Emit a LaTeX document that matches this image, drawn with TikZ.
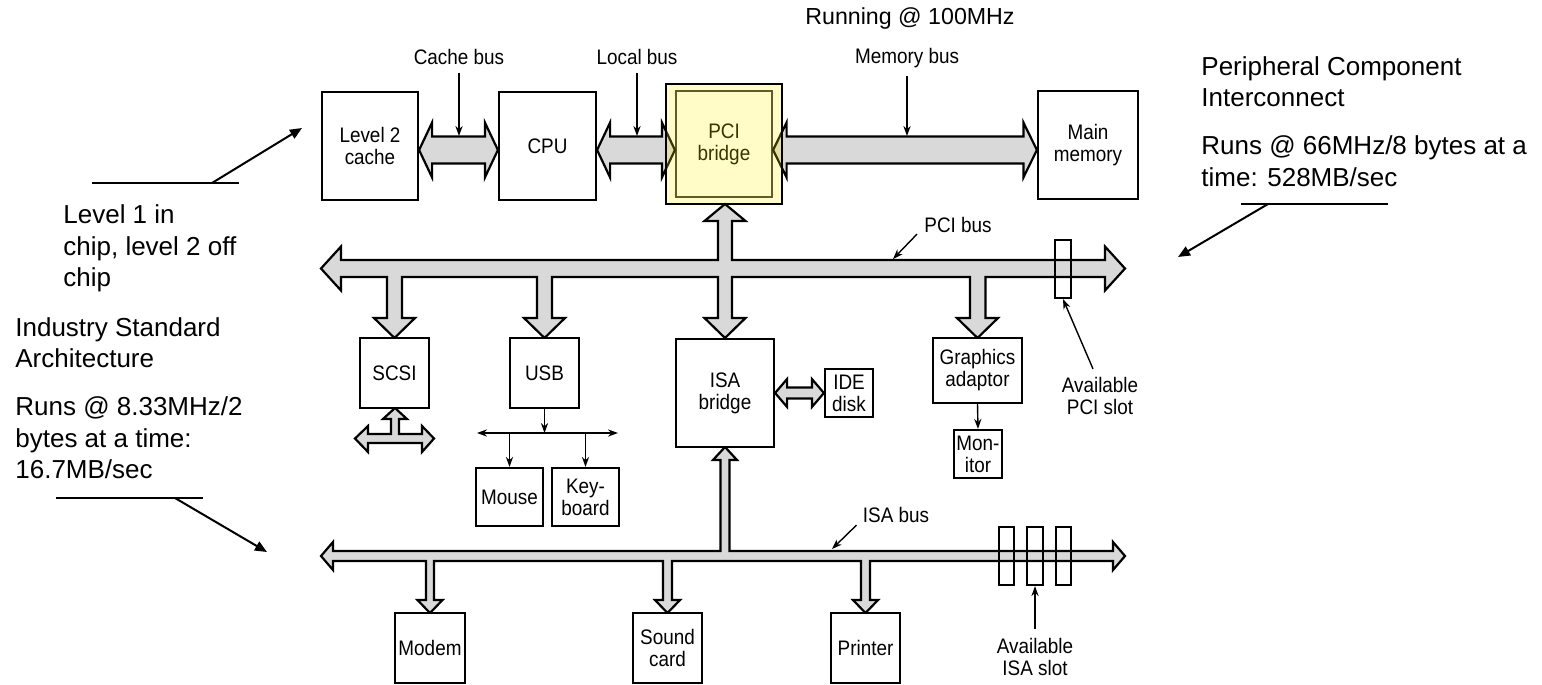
\documentclass[tikz,border=0pt]{standalone}
\usepackage{fontspec}
\setmainfont{Liberation Sans}
\newfontfamily\diagfont[FakeStretch=0.9]{Liberation Sans}
\usetikzlibrary{arrows.meta,calc}
\def\pxu{0.5pt}
\newcommand\bx[6]{\node[box, minimum width={(#4-#2)*0.5pt}, minimum height={(#5-#3)*0.5pt}] (#1) at ({(#2+#4)/2},{(#3+#5)/2}) {#6};}
\newcommand\hdarrow[6]{%
 \path[bus] let \p1=(#1), \p2=(#2) in
 (\x1,{\y1-(#6)*\pxu})
 -- ({\x1+(#3)*\pxu},{\y1+(-(#6)+(#4))*\pxu})
 -- ({\x1+(#3)*\pxu},{\y1+(-(#6)+(#5))*\pxu})
 -- ({\x2-(#3)*\pxu},{\y1+(-(#6)+(#5))*\pxu})
 -- ({\x2-(#3)*\pxu},{\y1+(-(#6)+(#4))*\pxu})
 -- (\x2,{\y1-(#6)*\pxu})
 -- ({\x2-(#3)*\pxu},{\y1+(-(#6)-(#4))*\pxu})
 -- ({\x2-(#3)*\pxu},{\y1+(-(#6)-(#5))*\pxu})
 -- ({\x1+(#3)*\pxu},{\y1+(-(#6)-(#5))*\pxu})
 -- ({\x1+(#3)*\pxu},{\y1+(-(#6)-(#4))*\pxu})
 -- cycle;}
\begin{document}
\begin{tikzpicture}[x=0.5pt,y=-0.5pt,
  box/.style={draw, line width=1.1pt, inner sep=0pt, align=center, fill=white,
    font=\diagfont\fontsize{10.5}{11}\selectfont},
  slot/.style={box, fill=none},
  bus/.style={draw, line width=1.1pt, fill=black!15, line join=miter},
  ptr/.style={line width=0.7pt, -{Stealth[length=5pt,width=3.6pt]}},
  lbl/.style={font=\diagfont\fontsize{10.5}{11}\selectfont, inner sep=0pt, align=center},
  note/.style={font=\fontsize{13}{15.75}\selectfont, align=left, inner sep=0pt, anchor=west},
  annot/.style={line width=1pt},
  annarr/.style={line width=1pt, -{Triangle[length=6pt,width=5pt]}}]
\useasboundingbox (0,0) rectangle (1542,685);
\fill[white] (0,0) rectangle (1542,685);

% PCI bridge (under its yellow overlay)
\node[box, fill=white, draw=black!80, minimum width=48pt, minimum height=53pt] (pcii) at (724,144) {PCI\\bridge};
\node[inner sep=0pt, outer sep=0pt, minimum width=58pt, minimum height=60pt] (pcib) at (724,144) {};

% top buses
\bx{cache}{322}{92}{418}{200}{Level 2\\cache}
\bx{cpu}{499}{92}{596}{200}{CPU}
\bx{mem}{1038}{91}{1138}{199}{Main\\memory}
\hdarrow{cache.east}{cpu.west}{13}{27.5}{13.5}{4}
\hdarrow{cpu.east}{pcii.west}{13}{27.5}{13.5}{4}
\hdarrow{pcii.east}{mem.west}{13.5}{27.5}{13.5}{6}

% PCI bus
\draw[bus] (321,268.5) -- (341,246.5) -- (341,260) -- (718,260) -- (718,221) -- (704.5,221) -- (725,204) -- (745.5,221) -- (732,221) -- (732,260) -- (1105,260) -- (1105,246.5) -- (1125,268.5) -- (1105,290.5) -- (1105,277)
 -- (985.5,277) -- (985.5,318) -- (998,318) -- (977.5,338) -- (957,318) -- (970,318) -- (970,277)
 -- (732,277) -- (732,318) -- (745.5,318) -- (725,338) -- (704.5,318) -- (718,318) -- (718,277)
 -- (552,277) -- (552,318) -- (565,318) -- (544.5,338) -- (524,318) -- (537,318) -- (537,277)
 -- (402,277) -- (402,318) -- (415,318) -- (394.5,338) -- (374,318) -- (387,318) -- (387,277)
 -- (341,277) -- (341,290.5) -- cycle;

% yellow overlay of the PCI bridge
\fill[yellow, fill opacity=0.22] (pcib.south west) rectangle (pcib.north east);
\draw[line width=1.1pt] (pcib.south west) rectangle (pcib.north east);

% ISA bus
\draw[bus] (321,556) -- (333,542) -- (333,551) -- (720.5,551) -- (720.5,460) -- (713,460) -- (725,447) -- (737,460) -- (729.5,460) -- (729.5,551) -- (1113,551) -- (1113,542) -- (1125,556) -- (1113,570) -- (1113,561)
 -- (870,561) -- (870,600) -- (878,600) -- (865.5,613) -- (853,600) -- (861,600) -- (861,561)
 -- (672,561) -- (672,600) -- (680,600) -- (667.5,613) -- (655,600) -- (663,600) -- (663,561)
 -- (434,561) -- (434,600) -- (442.5,600) -- (430,613) -- (417.5,600) -- (426,600) -- (426,561)
 -- (333,561) -- (333,570) -- cycle;

% SCSI bus stub
\draw[bus] (355,438.5) -- (368,426) -- (368,434) -- (391,434) -- (391,419) -- (383,419) -- (395,408) -- (407,419) -- (399,419) -- (399,434) -- (422,434) -- (422,426) -- (434,438.5) -- (422,452) -- (422,443) -- (368,443) -- (368,452) -- cycle;

% boxes
\bx{scsi}{360}{338}{429}{408}{SCSI}
\bx{usb}{510}{338}{579}{408}{USB}
\bx{isab}{676}{339}{774}{447}{ISA\\bridge}
\bx{ide}{825}{369}{873}{417}{IDE\\disk}
\bx{gfx}{933}{338}{1022}{403}{Graphics\\adaptor}
\bx{mon}{954}{430}{1002}{478}{Mon-\\itor}
\bx{mouse}{476}{468}{543}{526}{Mouse}
\bx{kbd}{552}{468}{619}{526}{Key-\\board}
\bx{modem}{395}{613}{465}{683}{Modem}
\bx{sound}{633}{613}{702}{683}{Sound\\card}
\bx{printer}{831}{613}{900}{683}{Printer}
\hdarrow{isab.east}{ide.west}{12}{14}{5.5}{0}

% slots
\node[slot, minimum width=8pt, minimum height=29pt] (pslot) at (1063,269) {};
\node[slot, minimum width=7.5pt, minimum height=29pt] (islot1) at (1006.5,556) {};
\node[slot, minimum width=8pt, minimum height=29pt] (islot2) at (1035,556) {};
\node[slot, minimum width=7.5pt, minimum height=29pt] (islot3) at (1063.5,556) {};

% USB connections
\coordinate (uj) at (544.5,433);
\coordinate (ul) at (477,433);
\coordinate (ur) at (618,433);
\coordinate (um) at (509.5,433);
\coordinate (uk) at (585.5,433);
\draw[ptr] (usb.south) -- (uj);
\draw[line width=0.7pt, {Stealth[length=5pt,width=3.6pt]}-{Stealth[length=5pt,width=3.6pt]}] (ul) -- (ur);
\draw[ptr] (um) -- (mouse.north);
\draw[ptr] (uk) -- (kbd.north);
\draw[ptr] (gfx.south) -- (mon.north);

% bus labels
\node[lbl] (lcb) at (459,57) {Cache bus};
\node[lbl] (llb) at (637,57) {Local bus};
\node[lbl] (lmb) at (907,58) {Memory bus};
\coordinate (cbt) at (459,136);
\coordinate (lbt) at (637,136);
\coordinate (mbt) at (907,136);
\draw[ptr] ($(lcb.south)+(0,8)$) -- (cbt);
\draw[ptr] ($(llb.south)+(0,8)$) -- (lbt);
\draw[ptr] ($(lmb.south)+(0,8)$) -- (mbt);
\node[lbl] (lpci) at (958,225) {PCI bus};
\coordinate (pcit) at (893,259);
\draw[ptr] ($(lpci.south west)+(-7,1)$) -- (pcit);
\node[lbl] (lisa) at (896,515) {ISA bus};
\coordinate (isat) at (832,549);
\draw[ptr] ($(lisa.south west)+(-6,2)$) -- (isat);
\node[lbl] (lps) at (1100,396) {Available\\PCI slot};
\draw[ptr] ($(lps.north)+(-7,-8)$) -- (pslot.south);
\node[lbl] (lis) at (1035,657) {Available\\ISA slot};
\draw[ptr] ($(lis.north)+(0,-9)$) -- (islot2.south);

% annotations
\node[font=\fontsize{11.6}{14}\selectfont, inner sep=0pt] (run) at (910,19) {Running @ 100MHz};
\node[note] (n1) at (63,248.5) {Level 1 in\\chip, level 2 off\\chip};
\node[note] (n2) at (15,342.5) {Industry Standard\\Architecture};
\node[note] (n3) at (15,438) {Runs @ 8.33MHz/2\\bytes at a time:\\16.7MB/sec};
\node[note] (n4) at (1201,81.5) {Peripheral Component\\Interconnect};
\node[note] (n5) at (1201,161) {Runs @ 66MHz/8 bytes at a\\time: 528MB/sec};

\coordinate (a1l) at (92,183); \coordinate (a1r) at (239,183);
\coordinate (a1s) at (212,183); \coordinate (a1e) at (302,128);
\draw[annot] (a1l) -- (a1r);
\draw[annarr] (a1s) -- (a1e);
\coordinate (a2l) at (56,498); \coordinate (a2r) at (203,498);
\coordinate (a2s) at (175,498); \coordinate (a2e) at (267,552);
\draw[annot] (a2l) -- (a2r);
\draw[annarr] (a2s) -- (a2e);
\coordinate (a3l) at (1241,204); \coordinate (a3r) at (1388,204);
\coordinate (a3s) at (1268,204); \coordinate (a3e) at (1178,257);
\draw[annot] (a3l) -- (a3r);
\draw[annarr] (a3s) -- (a3e);
\end{tikzpicture}
\end{document}
